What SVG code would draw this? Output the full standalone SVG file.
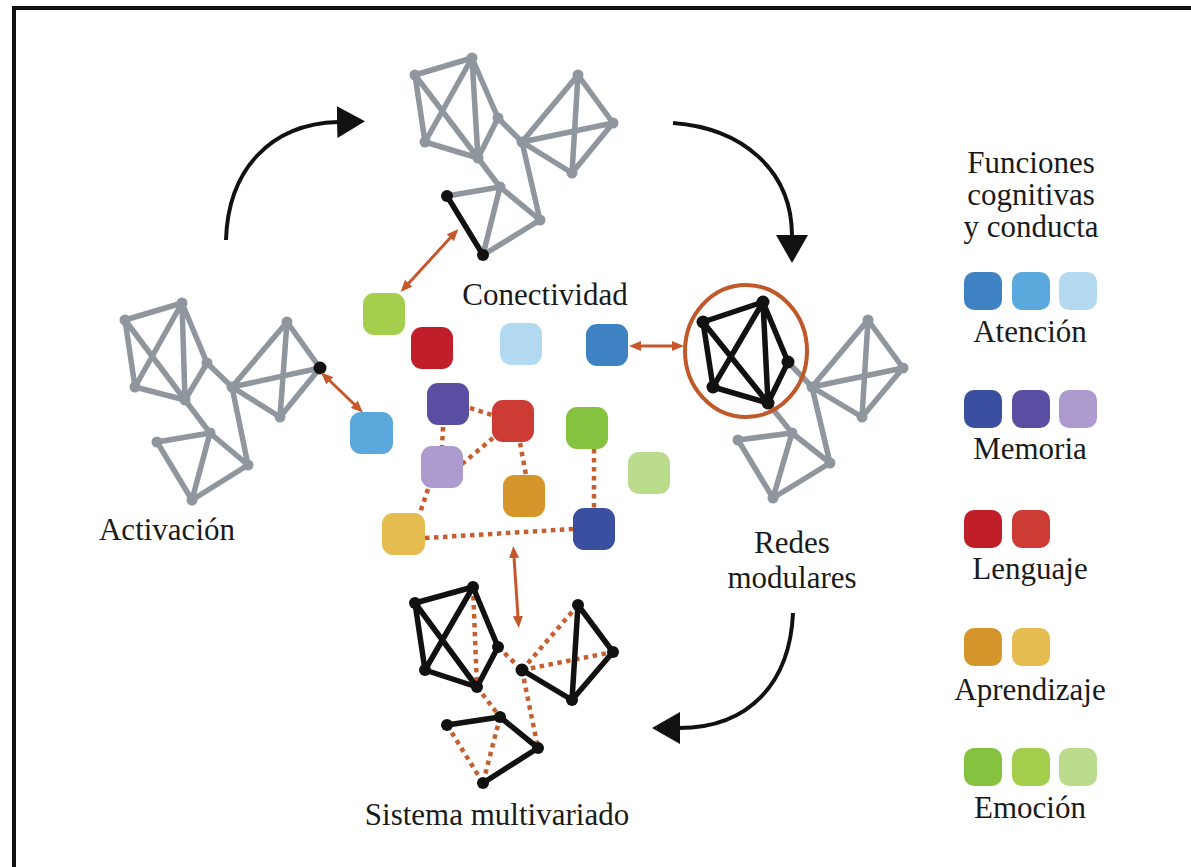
<svg xmlns="http://www.w3.org/2000/svg" width="1191" height="867" viewBox="0 0 1191 867">
<style>
.lbl{font-family:"Liberation Serif","Times New Roman",serif;font-size:31px;fill:#1a1a1a;text-anchor:middle}
.g{stroke:#8f969e;stroke-width:5.5;stroke-linecap:round;fill:none}
.gn{fill:#8f969e}
.k{stroke:#111;stroke-width:5.5;stroke-linecap:round;fill:none}
.kn{fill:#111}
.dot{stroke:#c4602f;stroke-width:4.5;stroke-dasharray:4.5 4.5;fill:none}
.oa{stroke:#c4582b;stroke-width:3;fill:none;marker-start:url(#oh);marker-end:url(#oh)}
.ba{stroke:#111;stroke-width:4;fill:none;marker-end:url(#bh)}
</style>
<defs>
<marker id="oh" viewBox="0 0 12 10" refX="1" refY="5" markerWidth="12" markerHeight="10" markerUnits="userSpaceOnUse" orient="auto-start-reverse"><path d="M0,0 L12,5 L0,10 Z" fill="#c4582b"/></marker>
<marker id="bh" viewBox="0 0 28 32" refX="1" refY="16" markerWidth="28" markerHeight="32" markerUnits="userSpaceOnUse" orient="auto"><path d="M0,0 L28,16 L0,32 Z" fill="#111"/></marker>
</defs>
<rect width="1191" height="867" fill="#fff"/>
<rect x="14" y="8" width="1200" height="900" fill="none" stroke="#111" stroke-width="4"/>

<g id="net-conectividad">
<path class="g" d="M415,75L472,58M415,75L425,142M415,75L478,158M472,58L425,142M472,58L478,158M472,58L498,118M425,142L478,158M478,158L498,118M498,118L522,142M522,142L578,75M522,142L613,123M522,142L572,173M578,75L613,123M578,75L572,173M613,123L572,173M522,142L540,220M478,158L500,187M500,187L540,220M500,187L447,196M500,187L483,255M540,220L483,255"/>
<g class="gn"><circle cx="415" cy="75" r="5.5"/><circle cx="472" cy="58" r="5.5"/><circle cx="425" cy="142" r="5.5"/><circle cx="478" cy="158" r="5.5"/><circle cx="498" cy="118" r="5.5"/><circle cx="522" cy="142" r="5.5"/><circle cx="578" cy="75" r="5.5"/><circle cx="613" cy="123" r="5.5"/><circle cx="572" cy="173" r="5.5"/><circle cx="500" cy="187" r="5.5"/><circle cx="540" cy="220" r="5.5"/></g>
<path class="k" d="M447,196L483,255"/>
<g class="kn"><circle cx="447" cy="196" r="6"/><circle cx="483" cy="255" r="6"/></g>
</g>

<g id="net-activacion">
<path class="g" d="M125,320L182,303M125,320L135,387M125,320L185,400M182,303L135,387M182,303L185,400M182,303L207,363M135,387L185,400M185,400L207,363M207,363L232,387M232,387L287,322M232,387L320,368M232,387L280,417M287,322L320,368M287,322L280,417M320,368L280,417M232,387L248,465M185,400L210,433M210,433L248,465M210,433L157,442M210,433L192,500M157,442L192,500M248,465L192,500"/>
<g class="gn"><circle cx="125" cy="320" r="5.5"/><circle cx="182" cy="303" r="5.5"/><circle cx="135" cy="387" r="5.5"/><circle cx="185" cy="400" r="5.5"/><circle cx="207" cy="363" r="5.5"/><circle cx="232" cy="387" r="5.5"/><circle cx="287" cy="322" r="5.5"/><circle cx="280" cy="417" r="5.5"/><circle cx="210" cy="433" r="5.5"/><circle cx="248" cy="465" r="5.5"/><circle cx="157" cy="442" r="5.5"/><circle cx="192" cy="500" r="5.5"/></g>
<circle class="kn" cx="320" cy="368" r="6.5"/>
</g>

<g id="net-modular">
<path class="g" d="M788,362L812,387M812,387L868,320M812,387L903,368M812,387L862,417M868,320L903,368M868,320L862,417M903,368L862,417M812,387L830,463M768,403L792,433M792,433L830,463M792,433L738,440M792,433L773,498M738,440L773,498M830,463L773,498"/>
<g class="gn"><circle cx="812" cy="387" r="5.5"/><circle cx="868" cy="320" r="5.5"/><circle cx="903" cy="368" r="5.5"/><circle cx="862" cy="417" r="5.5"/><circle cx="792" cy="433" r="5.5"/><circle cx="830" cy="463" r="5.5"/><circle cx="738" cy="440" r="5.5"/><circle cx="773" cy="498" r="5.5"/></g>
<path class="k" d="M703,322L763,302M703,322L713,387M703,322L768,403M763,302L713,387M763,302L768,403M763,302L788,362M713,387L768,403M768,403L788,362"/>
<g class="kn"><circle cx="703" cy="322" r="6.5"/><circle cx="763" cy="302" r="6.5"/><circle cx="713" cy="387" r="6.5"/><circle cx="768" cy="403" r="6.5"/><circle cx="788" cy="362" r="6.5"/></g>
<ellipse cx="746" cy="351" rx="61" ry="66" fill="none" stroke="#c0582a" stroke-width="4"/>
</g>

<g id="net-multivariado">
<path class="dot" d="M473,587L477,687M498,647L522,670M522,670L578,605M522,670L613,652M477,687L500,717M522,670L538,748M447,725L483,783M500,717L483,783"/>
<path class="k" d="M415,603L473,587M415,603L425,670M415,603L477,687M473,587L425,670M473,587L498,647M425,670L477,687M477,687L498,647M522,670L572,700M578,605L613,652M578,605L572,700M613,652L572,700M447,725L500,717M500,717L538,748M538,748L483,783"/>
<g class="kn"><circle cx="415" cy="603" r="6"/><circle cx="473" cy="587" r="6"/><circle cx="425" cy="670" r="6"/><circle cx="477" cy="687" r="6"/><circle cx="498" cy="647" r="6"/><circle cx="522" cy="670" r="6.5"/><circle cx="578" cy="605" r="6"/><circle cx="613" cy="652" r="6"/><circle cx="572" cy="700" r="6"/><circle cx="500" cy="717" r="6"/><circle cx="538" cy="748" r="6"/><circle cx="447" cy="725" r="6"/><circle cx="483" cy="783" r="6"/></g>
</g>

<g id="center-links">
<path class="dot" d="M470,408L492,415M443,427L442,447M493,438L462,464M520,443L526,475M428,489L420,513M425,538L573,529M594,449L594,509"/>
</g>

<g id="center-squares">
<rect x="363" y="293" width="42" height="42" rx="11" fill="#a4cf4c"/>
<rect x="411" y="327" width="42" height="42" rx="11" fill="#c01f2a"/>
<rect x="500" y="323" width="42" height="42" rx="11" fill="#b3daf0"/>
<rect x="586" y="324" width="42" height="42" rx="11" fill="#3f82c4"/>
<rect x="427" y="383" width="42" height="42" rx="11" fill="#5a4ea3"/>
<rect x="492" y="400" width="42" height="42" rx="11" fill="#cc3b34"/>
<rect x="566" y="407" width="42" height="42" rx="11" fill="#84c23f"/>
<rect x="350" y="412" width="43" height="42" rx="11" fill="#5ba8dc"/>
<rect x="421" y="446" width="42" height="42" rx="11" fill="#ad9bd0"/>
<rect x="628" y="452" width="42" height="42" rx="11" fill="#bbdc8c"/>
<rect x="503" y="475" width="42" height="42" rx="11" fill="#d6952a"/>
<rect x="382" y="513" width="43" height="42" rx="11" fill="#e4bc50"/>
<rect x="573" y="508" width="42" height="42" rx="11" fill="#3a4fa0"/>
</g>

<g id="connectors">
<path class="oa" d="M408,284L451,237"/>
<path class="oa" d="M355,405L329,380"/>
<path class="oa" d="M640,346L673,346"/>
<path class="oa" d="M514,557L518,617"/>
<path class="ba" d="M226,240C228,170 270,124 338,122"/>
<path class="ba" d="M673,123C742,128 792,170 792,236"/>
<path class="ba" d="M793,613C790,682 750,728 679,728"/>
</g>

<g id="labels">
<text class="lbl" x="545" y="305">Conectividad</text>
<text class="lbl" x="167" y="540">Activación</text>
<text class="lbl" x="792" y="553">Redes</text>
<text class="lbl" x="792" y="588">modulares</text>
<text class="lbl" x="497" y="825">Sistema multivariado</text>
</g>

<g id="legend">
<text class="lbl" x="1031" y="173">Funciones</text>
<text class="lbl" x="1031" y="205">cognitivas</text>
<text class="lbl" x="1031" y="237">y conducta</text>
<rect x="964" y="272" width="38" height="38" rx="10" fill="#3f82c4"/>
<rect x="1012" y="272" width="38" height="38" rx="10" fill="#5ba8dc"/>
<rect x="1059" y="272" width="38" height="38" rx="10" fill="#b3daf0"/>
<text class="lbl" x="1030" y="342">Atención</text>
<rect x="964" y="390" width="38" height="38" rx="10" fill="#3a4fa0"/>
<rect x="1012" y="390" width="38" height="38" rx="10" fill="#5a4ea3"/>
<rect x="1059" y="390" width="38" height="38" rx="10" fill="#ad9bd0"/>
<text class="lbl" x="1030" y="459">Memoria</text>
<rect x="964" y="510" width="38" height="38" rx="10" fill="#c01f2a"/>
<rect x="1012" y="510" width="38" height="38" rx="10" fill="#cc3b34"/>
<text class="lbl" x="1030" y="579">Lenguaje</text>
<rect x="964" y="628" width="38" height="38" rx="10" fill="#d6952a"/>
<rect x="1012" y="628" width="38" height="38" rx="10" fill="#e4bc50"/>
<text class="lbl" x="1030" y="700">Aprendizaje</text>
<rect x="964" y="748" width="38" height="38" rx="10" fill="#84c23f"/>
<rect x="1012" y="748" width="38" height="38" rx="10" fill="#a4cf4c"/>
<rect x="1059" y="748" width="38" height="38" rx="10" fill="#bbdc8c"/>
<text class="lbl" x="1030" y="818">Emoción</text>
</g>
</svg>
